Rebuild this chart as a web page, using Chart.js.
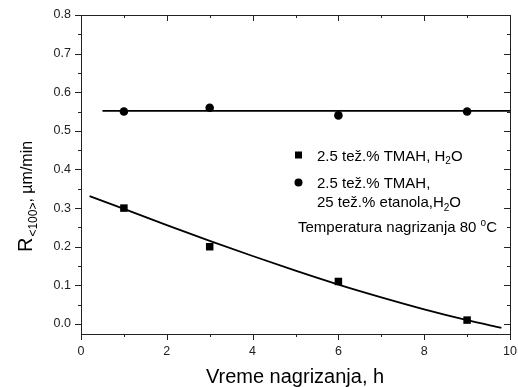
<!DOCTYPE html>
<html>
<head>
<meta charset="utf-8">
<script src="https://cdn.jsdelivr.net/npm/chart.js@4.4.1/dist/chart.umd.min.js"></script>
<style>
  html, body { margin: 0; padding: 0; background: #fff; }
  #wrap { width: 518px; height: 387px; }
</style>
</head>
<body>
<div id="wrap"><canvas id="chart" width="518" height="387"></canvas></div>
<script>
// measured points
const timeH = [1, 3, 6, 9];
const rateTmahH2O = [0.30, 0.20, 0.11, 0.01];
const rateTmahEtanol = [0.55, 0.56, 0.54, 0.55];

// fitted curves
const fitTmahX = [0.2, 1, 2, 3, 4, 5, 6, 7, 8, 9, 9.8];
const fitTmahY = [0.331, 0.298, 0.256, 0.215, 0.176, 0.138, 0.102, 0.069, 0.038, 0.010, -0.010];
const fitEtanolX = [0.5, 10];
const fitEtanolY = [0.552, 0.552];

// axes
const xMajor = [0, 2, 4, 6, 8, 10];
const xMinor = [1, 3, 5, 7, 9];
const yMajor = [0, 0.1, 0.2, 0.3, 0.4, 0.5, 0.6, 0.7, 0.8];
const yMinor = [0.05, 0.15, 0.25, 0.35, 0.45, 0.55, 0.65, 0.75];

const FONT = 'Liberation Sans, Arial, sans-serif';
const pts = (xs, ys) => xs.map((x, i) => ({ x, y: ys[i] }));

// box + ticks: out on bottom/left, in on top/right
const frame = {
  id: 'frame',
  afterDatasetsDraw(chart) {
    const { ctx, chartArea: a, scales: { x, y } } = chart;
    ctx.save();
    ctx.strokeStyle = '#222';
    ctx.lineWidth = 1;
    ctx.strokeRect(a.left + 0.5, a.top + 0.5, a.right - a.left, a.bottom - a.top);
    ctx.beginPath();
    const tx = (v, len) => {
      const px = Math.round(x.getPixelForValue(v)) + 0.5;
      ctx.moveTo(px, a.bottom); ctx.lineTo(px, a.bottom + len);
      ctx.moveTo(px, a.top); ctx.lineTo(px, a.top + len);
    };
    const ty = (v, len) => {
      const py = Math.round(y.getPixelForValue(v)) + 0.5;
      ctx.moveTo(a.left, py); ctx.lineTo(a.left - len, py);
      ctx.moveTo(a.right, py); ctx.lineTo(a.right - len, py);
    };
    xMajor.forEach(v => tx(v, 6));
    xMinor.forEach(v => tx(v, 3));
    yMajor.forEach(v => ty(v, 6));
    yMinor.forEach(v => ty(v, 3));
    ctx.stroke();
    ctx.restore();
  },
  afterDraw(chart) {
    const { ctx } = chart;
    ctx.save();
    ctx.fillStyle = '#000';
    ctx.textBaseline = 'alphabetic';

    // x title
    ctx.font = '20px ' + FONT;
    ctx.textAlign = 'center';
    ctx.fillText('Vreme nagrizanja, h', 295, 383);

    // y title with subscript, runs bottom -> top
    ctx.textAlign = 'left';
    const fR = '20px ' + FONT, fSub = '12px ' + FONT, fRest = '16px ' + FONT;
    ctx.translate(32, 252);
    ctx.rotate(-Math.PI / 2);
    let cx = 0;
    ctx.font = fR; ctx.fillText('R', cx, 0); cx += ctx.measureText('R').width + 1;
    ctx.font = fSub; ctx.fillText('<100>', cx, 5); cx += ctx.measureText('<100>').width;
    ctx.font = fRest; ctx.fillText(', \u00b5m/min', cx, 0);
    ctx.setTransform(1, 0, 0, 1, 0, 0);

    // legend
    ctx.fillRect(295, 151.5, 7, 7);
    ctx.beginPath(); ctx.arc(298.5, 182.5, 4, 0, Math.PI * 2); ctx.fill();
    const leg = '15px ' + FONT, legSmall = '10px ' + FONT;
    ctx.font = leg;
    let lx = 317;
    ctx.fillText('2.5 te\u017e.% TMAH, H', lx, 160.5);
    lx += ctx.measureText('2.5 te\u017e.% TMAH, H').width;
    ctx.font = legSmall; ctx.fillText('2', lx, 164); lx += ctx.measureText('2').width;
    ctx.font = leg; ctx.fillText('O', lx, 160.5);

    ctx.fillText('2.5 te\u017e.% TMAH,', 317, 188);
    lx = 317;
    ctx.fillText('25 te\u017e.% etanola,H', lx, 207);
    lx += ctx.measureText('25 te\u017e.% etanola,H').width;
    ctx.font = legSmall; ctx.fillText('2', lx, 210.5); lx += ctx.measureText('2').width;
    ctx.font = leg; ctx.fillText('O', lx, 207);

    lx = 298;
    ctx.fillText('Temperatura nagrizanja 80 ', lx, 232);
    lx += ctx.measureText('Temperatura nagrizanja 80 ').width;
    ctx.font = legSmall; ctx.fillText('o', lx, 226); lx += ctx.measureText('o').width;
    ctx.font = leg; ctx.fillText('C', lx, 232);
    ctx.restore();
  }
};

new Chart(document.getElementById('chart'), {
  type: 'scatter',
  data: {
    datasets: [
      {
        label: 'fit TMAH, H2O',
        data: pts(fitTmahX, fitTmahY),
        showLine: true,
        borderColor: '#000',
        borderWidth: 1.8,
        pointRadius: 0,
        cubicInterpolationMode: 'monotone'
      },
      {
        label: 'fit TMAH, etanol',
        data: pts(fitEtanolX, fitEtanolY),
        showLine: true,
        borderColor: '#000',
        borderWidth: 1.8,
        pointRadius: 0
      },
      {
        label: '2.5 tež.% TMAH, H2O',
        data: pts(timeH, rateTmahH2O),
        pointStyle: 'rect',
        pointRadius: 5.3,
        backgroundColor: '#000',
        borderColor: '#000',
        borderWidth: 0
      },
      {
        label: '2.5 tež.% TMAH, 25 tež.% etanola, H2O',
        data: pts(timeH, rateTmahEtanol),
        pointStyle: 'circle',
        pointRadius: 4.3,
        backgroundColor: '#000',
        borderColor: '#000',
        borderWidth: 0
      }
    ]
  },
  options: {
    responsive: false,
    devicePixelRatio: 1,
    animation: false,
    layout: { padding: { left: 0, right: 8, top: 15, bottom: 0 } },
    plugins: { legend: { display: false }, tooltip: { enabled: false } },
    scales: {
      x: {
        type: 'linear',
        min: 0,
        max: 10,
        afterBuildTicks: s => { s.ticks = xMajor.map(v => ({ value: v })); },
        afterFit: s => { s.height = 53; s.paddingLeft = 0; s.paddingRight = 0; },
        grid: { display: false, drawTicks: false },
        border: { display: false },
        ticks: { color: '#222', padding: 10, font: { family: FONT, size: 12.5 }, callback: v => String(v) }
      },
      y: {
        type: 'linear',
        min: -0.026,
        max: 0.8,
        afterBuildTicks: s => { s.ticks = yMajor.map(v => ({ value: v })); },
        afterFit: s => { s.width = 81; s.paddingTop = 0; s.paddingBottom = 0; },
        grid: { display: false, drawTicks: false },
        border: { display: false },
        ticks: { color: '#222', padding: 10, font: { family: FONT, size: 12.5 }, callback: v => v.toFixed(1) }
      }
    }
  },
  plugins: [frame]
});
</script>
</body>
</html>
